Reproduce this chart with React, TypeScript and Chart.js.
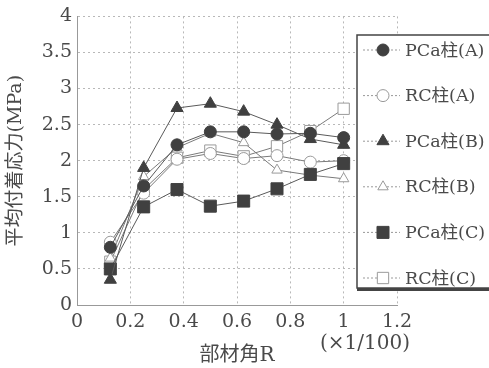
import React, { useEffect, useRef } from "react";
import { Chart, registerables } from "chart.js";
import { drawPoint } from "chart.js/helpers";

Chart.register(...registerables);

const xValues = [0.125, 0.25, 0.375, 0.5, 0.625, 0.75, 0.875, 1.0];
const seriesLabels = ["PCa柱(A)", "RC柱(A)", "PCa柱(B)", "RC柱(B)", "PCa柱(C)", "RC柱(C)"];
const pcaA = [0.8, 1.65, 2.22, 2.4, 2.4, 2.37, 2.38, 2.32];
const rcA = [0.87, 1.55, 2.02, 2.1, 2.03, 2.07, 1.98, 2.0];
const pcaB = [0.35, 1.9, 2.73, 2.79, 2.68, 2.5, 2.3, 2.22];
const rcB = [0.65, 1.78, 2.18, 2.38, 2.25, 1.87, 1.8, 1.75];
const pcaC = [0.5, 1.36, 1.6, 1.37, 1.44, 1.61, 1.81, 1.96];
const rcC = [0.6, 1.6, 2.04, 2.14, 2.06, 2.2, 2.41, 2.72];
const xTitle = "部材角R";
const xUnit = "(×1/100)";
const yTitle = "平均付着応力(MPa)";

const FONT = '"DejaVu Serif", "Noto Sans CJK JP", serif';
const TEXT = "#4a4a4a";

const fmt = (v: any) => String(Math.round(Number(v) * 100) / 100);

const legendPlugin = {
  id: "boxLegend",
  afterDraw(chart: any) {
    const ctx = chart.ctx;
    const xs = chart.scales.x;
    ctx.save();
    // unit label under the x axis
    ctx.font = `20px ${FONT}`;
    ctx.fillStyle = TEXT;
    ctx.textAlign = "center";
    ctx.textBaseline = "middle";
    ctx.fillText(xUnit, xs.getPixelForValue(1.08), 344);

    // legend box
    const left = 357, top = 35, bottom = 288, right = 500;
    ctx.fillStyle = "#ffffff";
    ctx.fillRect(left, top, right - left, bottom - top);
    ctx.strokeStyle = "#444";
    ctx.lineWidth = 1.5;
    ctx.strokeRect(left, top, right - left, bottom - top);
    ctx.fillStyle = "#444";
    ctx.fillRect(left, bottom, right - left, 3);

    chart.data.datasets.forEach((ds: any, i: number) => {
      const y = 50 + i * 45.6;
      ctx.strokeStyle = "#999";
      ctx.lineWidth = 1;
      ctx.setLineDash([2, 2]);
      ctx.beginPath();
      ctx.moveTo(363, y);
      ctx.lineTo(400, y);
      ctx.stroke();
      ctx.setLineDash([]);
      ctx.fillStyle = ds.pointBackgroundColor;
      ctx.strokeStyle = ds.pointBorderColor;
      ctx.lineWidth = ds.pointBorderWidth;
      drawPoint(ctx, { pointStyle: ds.pointStyle, rotation: 0, radius: ds.pointRadius, borderWidth: ds.pointBorderWidth }, 383, y);
      ctx.fillStyle = TEXT;
      ctx.font = `17.5px ${FONT}`;
      ctx.textAlign = "left";
      ctx.textBaseline = "middle";
      ctx.fillText(ds.label, 405, y + 1);
    });
    ctx.restore();
  },
};

function makeSet(label: string, vals: number[], filled: boolean, style: string, radius: number) {
  return {
    label,
    data: xValues.map((x, i) => ({ x, y: vals[i] })),
    showLine: true,
    borderColor: filled ? "#5a5a5a" : "#7a7a7a",
    borderWidth: 1,
    pointStyle: style,
    pointRadius: radius,
    pointBackgroundColor: filled ? "#404040" : "#ffffff",
    pointBorderColor: filled ? "#404040" : "#9a9a9a",
    pointBorderWidth: 1,
    order: filled ? 0 : 1,
  };
}

export default function App() {
  const ref = useRef<HTMLCanvasElement | null>(null);
  useEffect(() => {
    document.body.style.margin = "0";
    const canvas = ref.current!;
    const chart = new Chart(canvas, {
      type: "scatter",
      data: {
        datasets: [
          makeSet(seriesLabels[0], pcaA, true, "circle", 6),
          makeSet(seriesLabels[1], rcA, false, "circle", 6),
          makeSet(seriesLabels[2], pcaB, true, "triangle", 7),
          makeSet(seriesLabels[3], rcB, false, "triangle", 6),
          makeSet(seriesLabels[4], pcaC, true, "rect", 8.5),
          makeSet(seriesLabels[5], rcC, false, "rect", 8),
        ],
      },
      options: {
        responsive: false,
        animation: false,
        layout: { padding: { left: 0, right: 92, top: 15, bottom: 0 } },
        plugins: { legend: { display: false }, tooltip: { enabled: false } },
        scales: {
          x: {
            type: "linear",
            min: 0,
            max: 1.2,
            afterFit: (s: any) => { s.height = 63; },
            ticks: { stepSize: 0.2, color: TEXT, font: { family: FONT, size: 19 }, padding: 6, maxRotation: 0, callback: fmt },
            grid: { color: "#b8b8b8", lineWidth: 1, drawTicks: false },
            border: { display: true, color: "#999", width: 1, dash: [2, 3] },
            title: { display: true, text: xTitle, color: TEXT, font: { family: FONT, size: 20 }, padding: { top: 0, bottom: 0 } },
          },
          y: {
            min: 0,
            max: 4,
            afterFit: (s: any) => { s.width = 77; },
            ticks: { stepSize: 0.5, color: TEXT, font: { family: FONT, size: 19 }, padding: 5, callback: fmt },
            grid: { color: "#b8b8b8", lineWidth: 1, drawTicks: false },
            border: { display: true, color: "#999", width: 1, dash: [2, 3] },
            title: { display: true, text: yTitle, color: TEXT, font: { family: FONT, size: 19 }, padding: { top: 5, bottom: 0 } },
          },
        },
      },
      plugins: [legendPlugin],
    });
    return () => chart.destroy();
  }, []);
  return <canvas ref={ref} width={489} height={368} style={{ display: "block", width: 489, height: 368 }} />;
}
